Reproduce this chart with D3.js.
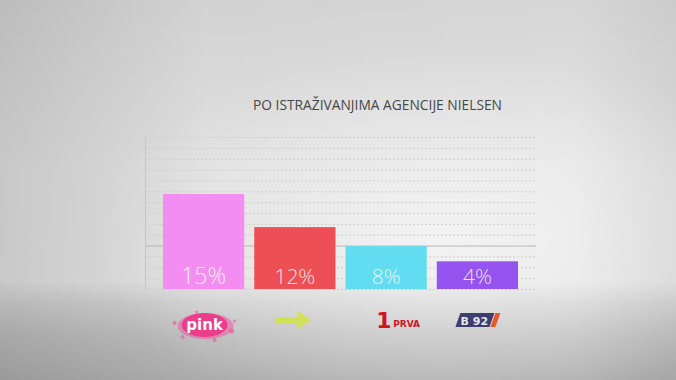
<!DOCTYPE html>
<html>
<head>
<meta charset="utf-8">
<script src="https://cdn.jsdelivr.net/npm/d3@7"></script>
<style>
  html, body { margin: 0; padding: 0; overflow: hidden; }
  svg { display: block; }
</style>
</head>
<body>
<svg id="chart"></svg>
<script>
// channels, bar heights (read in grid units) and their printed labels
const channels = ["pink", "happy", "prva", "b92"];
const barValues = [8.75, 5.7, 3.95, 2.55];
const barLabels = ["15%", "12%", "8%", "4%"];
const barColors = ["#f38df1", "#ee4f55", "#62dcf0", "#9553f0"];
const gridTicks = d3.range(0, 15);
const title = "PO ISTRAŽIVANJIMA AGENCIJE NIELSEN";

const w = 676;
const h = 380;
const margin = { left: 145, right: 146, top: 137, bottom: 91 };

const svg = d3.select("#chart").attr("width", w).attr("height", h);
const defs = svg.append("defs");

// background: soft studio gradient
const bg = defs.append("linearGradient").attr("id", "bg")
  .attr("x1", 0).attr("y1", 0).attr("x2", 0).attr("y2", 1);
[[0, "#d6d6d6"], [0.45, "#e3e3e3"], [0.74, "#e4e4e4"], [0.8, "#d0d0d0"], [0.88, "#bfbfbf"], [1, "#afafaf"]]
  .forEach(([o, c]) => bg.append("stop").attr("offset", o).attr("stop-color", c));

const glow = defs.append("radialGradient").attr("id", "glow")
  .attr("cx", 0.64).attr("cy", 0.62).attr("r", 0.5);
glow.append("stop").attr("offset", 0).attr("stop-color", "#fff").attr("stop-opacity", 0.6);
glow.append("stop").attr("offset", 1).attr("stop-color", "#fff").attr("stop-opacity", 0);

const side = defs.append("linearGradient").attr("id", "side")
  .attr("x1", 0).attr("y1", 0).attr("x2", 1).attr("y2", 0);
side.append("stop").attr("offset", 0).attr("stop-color", "#000").attr("stop-opacity", 0.12);
side.append("stop").attr("offset", 0.3).attr("stop-color", "#000").attr("stop-opacity", 0.02);
side.append("stop").attr("offset", 0.85).attr("stop-color", "#000").attr("stop-opacity", 0);
side.append("stop").attr("offset", 1).attr("stop-color", "#000").attr("stop-opacity", 0.05);

svg.append("rect").attr("width", w).attr("height", h).attr("fill", "url(#bg)");
svg.append("rect").attr("width", w).attr("height", h).attr("fill", "url(#glow)");
svg.append("rect").attr("width", w).attr("height", h).attr("fill", "url(#side)");

const x = d3.scaleBand()
  .domain(channels)
  .range([163, 518])
  .paddingInner(0.11)
  .paddingOuter(0);

const y = d3.scaleLinear()
  .domain([0, 14])
  .range([h - margin.bottom, margin.top]);

// dotted grid lines
svg.append("g")
  .selectAll("line")
  .data(gridTicks)
  .join("line")
  .attr("x1", margin.left)
  .attr("x2", w - margin.right + 6)
  .attr("y1", (d) => y(d) + 0.5)
  .attr("y2", (d) => y(d) + 0.5)
  .attr("stroke", (d) => (d === 4 ? "#b9b9b9" : "#cdcdcd"))
  .attr("stroke-width", 1)
  .attr("stroke-dasharray", (d) => (d === 4 ? null : "2,2"));

// left axis line
svg.append("line")
  .attr("x1", margin.left + 0.5).attr("x2", margin.left + 0.5)
  .attr("y1", y(14)).attr("y2", y(0))
  .attr("stroke", "#c6c6c6");

// title
svg.append("text")
  .attr("x", 253)
  .attr("y", 110)
  .attr("textLength", 249)
  .attr("lengthAdjust", "spacingAndGlyphs")
  .attr("font-family", "Open Sans, sans-serif")
  .attr("font-size", 14)
  .attr("fill", "#474747")
  .text(title);

// bars
svg.append("g")
  .selectAll("rect")
  .data(barValues)
  .join("rect")
  .attr("x", (d, i) => x(channels[i]))
  .attr("y", (d) => y(d))
  .attr("width", x.bandwidth())
  .attr("height", (d) => y(0) - y(d))
  .attr("fill", (d, i) => barColors[i]);

svg.append("g")
  .selectAll("text")
  .data(barLabels)
  .join("text")
  .attr("x", (d, i) => x(channels[i]) + x.bandwidth() / 2)
  .attr("y", y(0) - 5)
  .attr("text-anchor", "middle")
  .attr("font-family", "Open Sans, sans-serif")
  .attr("font-weight", 300)
  .attr("font-size", (d, i) => (i === 0 ? 23 : 21))
  .attr("fill", "#fff")
  .attr("fill-opacity", 0.85)
  .text((d) => d);

// channel logos under each bar
const logos = svg.append("g");
const cx = (name) => x(name) + x.bandwidth() / 2;

// pink splash
const px = cx("pink") + 1, py = 327;
logos.append("ellipse").attr("cx", px + 1).attr("cy", py - 1).attr("rx", 28).attr("ry", 13)
  .attr("fill", "#ef4f9c").attr("opacity", 0.5);
logos.append("ellipse").attr("cx", px).attr("cy", py - 2).attr("rx", 23).attr("ry", 12)
  .attr("fill", "#ec3d8d");
[[-30, -4, 2], [27, 4, 2.5], [-22, 10, 2], [10, 13, 2], [-8, -15, 1.5], [30, -6, 1.5]].forEach(([dx, dy, r]) =>
  logos.append("circle").attr("cx", px + dx).attr("cy", py + dy).attr("r", r).attr("fill", "#ef5aa3").attr("opacity", 0.7));
logos.append("text").attr("x", px).attr("y", py + 3).attr("text-anchor", "middle")
  .attr("font-family", "DejaVu Sans, sans-serif").attr("font-weight", "bold").attr("font-size", 15)
  .attr("fill", "#fff").text("pink");

// green arrow
const gx = cx("happy"), gy = 320;
logos.append("path")
  .attr("d", `M${gx - 20},${gy - 3} L${gx + 3},${gy - 3} L${gx + 3},${gy - 9} L${gx + 16},${gy} L${gx + 3},${gy + 9} L${gx + 3},${gy + 3} L${gx - 20},${gy + 3} Z`)
  .attr("fill", "#cfe24a").attr("opacity", 0.9);

// prva
const rx = cx("prva") - 10, ry = 322;
logos.append("text").attr("x", rx).attr("y", ry + 6).attr("font-family", "DejaVu Sans, sans-serif")
  .attr("font-weight", "bold").attr("font-size", 22).attr("fill", "#d2141e").text("1");
logos.append("text").attr("x", rx + 17).attr("y", ry + 5).attr("font-family", "DejaVu Sans, sans-serif")
  .attr("font-weight", "bold").attr("font-size", 9).attr("fill", "#d2141e").text("PRVA");

// b92 badge
const bx = cx("b92"), by = 320;
logos.append("path")
  .attr("d", `M${bx - 22},${by + 7} L${bx - 17},${by - 7} L${bx + 17},${by - 7} L${bx + 12},${by + 7} Z`)
  .attr("fill", "#3b3e6e");
logos.append("path")
  .attr("d", `M${bx + 13},${by + 7} L${bx + 18},${by - 7} L${bx + 23},${by - 7} L${bx + 18},${by + 7} Z`)
  .attr("fill", "#e45a2e");
logos.append("text").attr("x", bx - 3).attr("y", by + 4.5).attr("text-anchor", "middle")
  .attr("font-family", "DejaVu Sans, sans-serif").attr("font-weight", "bold").attr("font-size", 11)
  .attr("fill", "#e8e8f2").text("B 92");
</script>
</body>
</html>
